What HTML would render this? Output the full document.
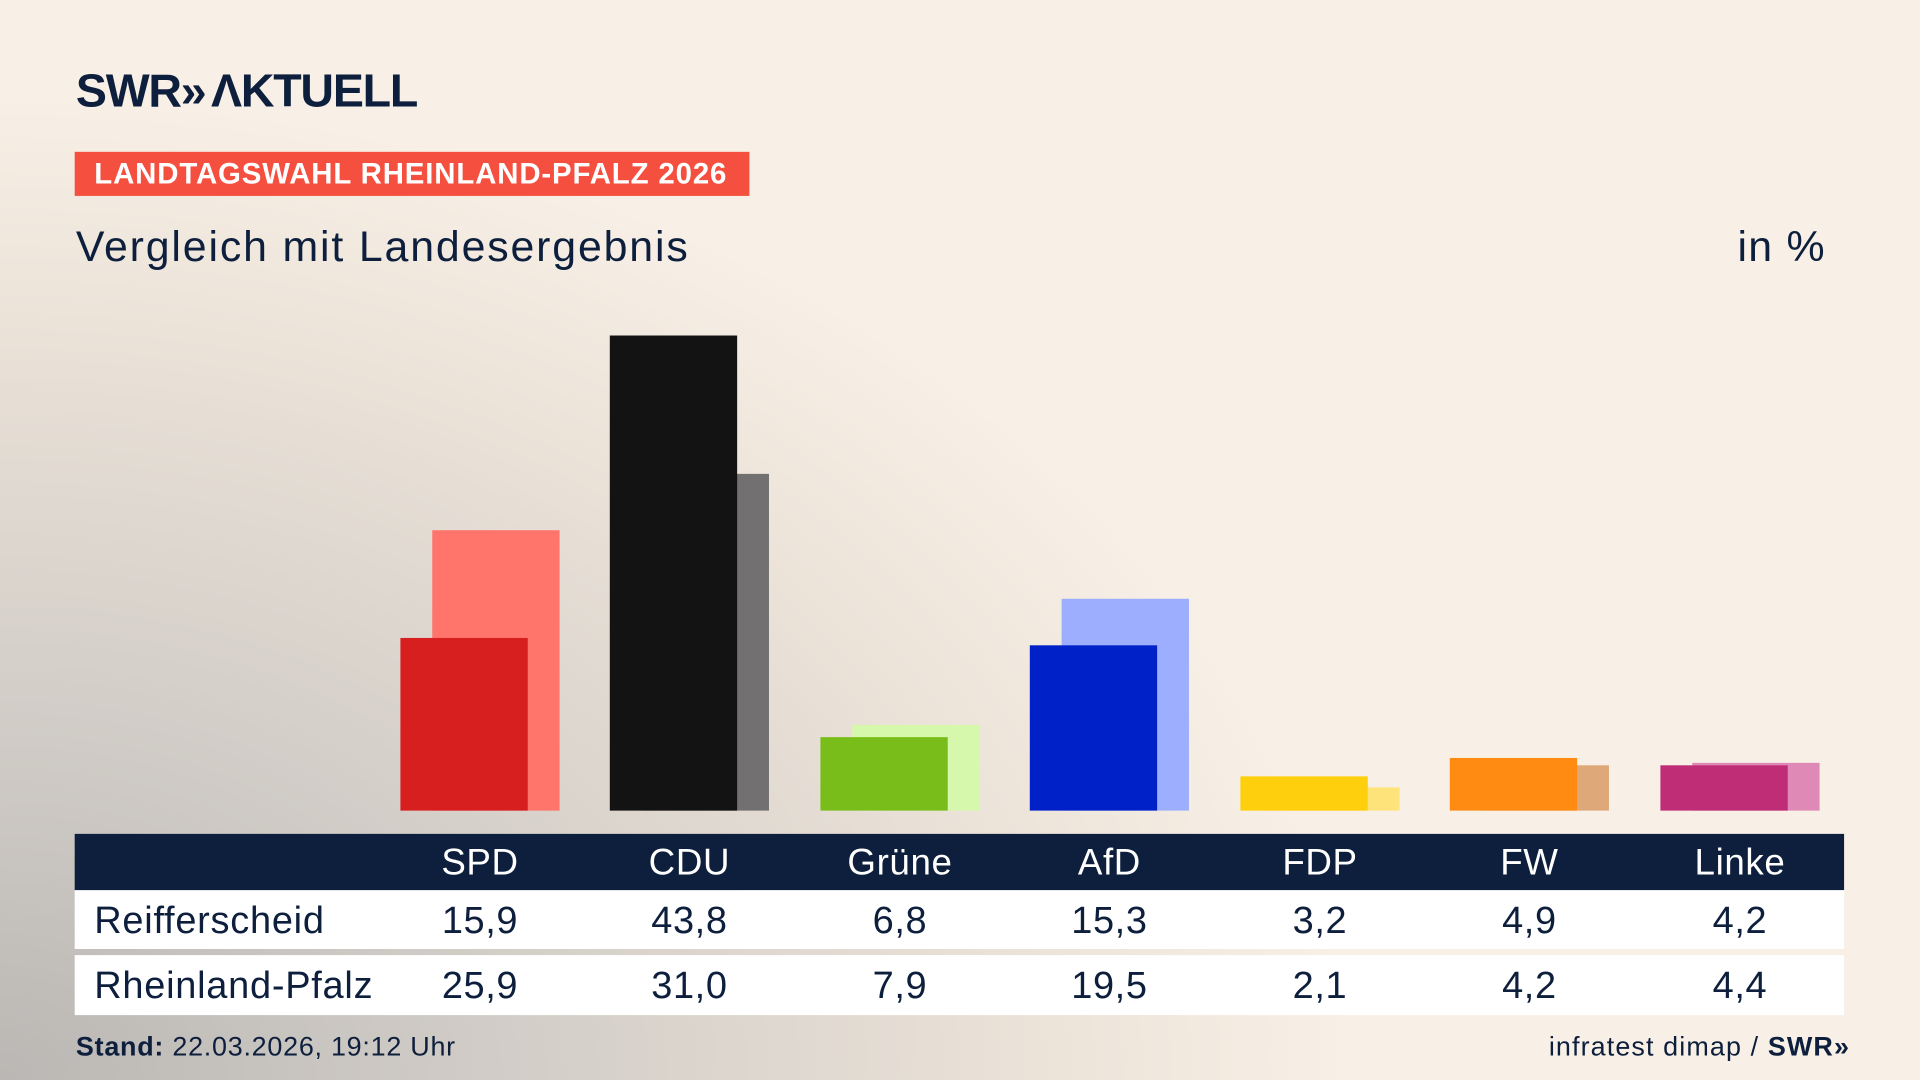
<!DOCTYPE html>
<html><head><meta charset="utf-8"><style>
html,body{margin:0;padding:0;width:1920px;height:1080px;overflow:hidden}
#s{position:absolute;left:0;top:0;width:1568px;height:882px;transform:scale(1.22449);transform-origin:0 0;
background:radial-gradient(ellipse 1300px 950px at 0% 100%, #bab7b4 0%, #d4cfc9 35%, #ebe2d8 65%, #f8f0e6 85%);
font-family:"Liberation Sans","DejaVu Sans",sans-serif;color:#0d1f3c;overflow:hidden}
.a{position:absolute}
.b{position:absolute;bottom:220px}
.c{position:absolute;width:130px;text-align:center;letter-spacing:0.5px}
</style></head><body><div id="s">
<div class="a" style="left:62px;top:54px;font-size:38px;font-weight:bold;letter-spacing:-1px;color:#0d1f3c">SWR<span style="letter-spacing:-6px">»</span> ΛKTUELL</div>
<div class="a" style="left:61px;top:124px;width:551px;height:36px;background:#f5503f;color:#fff;font-weight:bold;font-size:24px;line-height:37px;text-indent:16px;letter-spacing:0.7px">LANDTAGSWAHL RHEINLAND-PFALZ 2026</div>
<div class="a" style="left:62px;top:182px;font-size:35px;letter-spacing:1.5px">Vergleich mit Landesergebnis</div>
<div class="a" style="left:1419px;top:182px;font-size:35px;letter-spacing:1px">in %</div>

<div class="b" style="left:353px;width:104px;height:229px;background:#ff756c"></div>
<div class="b" style="left:327px;width:104px;height:141px;background:#d71f20"></div>
<div class="b" style="left:524px;width:104px;height:275px;background:#727070"></div>
<div class="b" style="left:498px;width:104px;height:388px;background:#131313"></div>
<div class="b" style="left:696px;width:104px;height:70px;background:#d6f8ac"></div>
<div class="b" style="left:670px;width:104px;height:60px;background:#79bd1b"></div>
<div class="b" style="left:867px;width:104px;height:173px;background:#9eaefe"></div>
<div class="b" style="left:841px;width:104px;height:135px;background:#0021c8"></div>
<div class="b" style="left:1039px;width:104px;height:19px;background:#fee37a"></div>
<div class="b" style="left:1013px;width:104px;height:28px;background:#fecf0c"></div>
<div class="b" style="left:1210px;width:104px;height:37px;background:#dfa878"></div>
<div class="b" style="left:1184px;width:104px;height:43px;background:#ff8b13"></div>
<div class="b" style="left:1382px;width:104px;height:39px;background:#df8ab6"></div>
<div class="b" style="left:1356px;width:104px;height:37px;background:#be2d76"></div>

<div class="a" style="left:61px;top:681px;width:1445px;height:46px;background:#0d1f3c"></div>
<div class="a" style="left:61px;top:727px;width:1445px;height:48px;background:#fff"></div>
<div class="a" style="left:61px;top:780px;width:1445px;height:49px;background:#fff"></div>
<div style="position:absolute;left:0;top:688px;width:1568px;font-size:30px;color:#fff">
<div class="c" style="left:327px">SPD</div><div class="c" style="left:498px">CDU</div><div class="c" style="left:670px">Grüne</div><div class="c" style="left:841px">AfD</div><div class="c" style="left:1013px">FDP</div><div class="c" style="left:1184px">FW</div><div class="c" style="left:1356px">Linke</div></div>
<div style="position:absolute;left:0;top:734px;width:1568px;font-size:31px">
<div class="a" style="left:77px;letter-spacing:0.6px">Reifferscheid</div>
<div class="c" style="left:327px">15,9</div><div class="c" style="left:498px">43,8</div><div class="c" style="left:670px">6,8</div><div class="c" style="left:841px">15,3</div><div class="c" style="left:1013px">3,2</div><div class="c" style="left:1184px">4,9</div><div class="c" style="left:1356px">4,2</div></div>
<div style="position:absolute;left:0;top:787px;width:1568px;font-size:31px">
<div class="a" style="left:77px;letter-spacing:0.6px">Rheinland-Pfalz</div>
<div class="c" style="left:327px">25,9</div><div class="c" style="left:498px">31,0</div><div class="c" style="left:670px">7,9</div><div class="c" style="left:841px">19,5</div><div class="c" style="left:1013px">2,1</div><div class="c" style="left:1184px">4,2</div><div class="c" style="left:1356px">4,4</div></div>
<div class="a" style="left:62px;top:842px;font-size:22px;letter-spacing:0.6px"><b>Stand:</b> 22.03.2026, 19:12 Uhr</div>
<div class="a" style="right:62px;top:842px;font-size:22px;letter-spacing:0.9px">infratest dimap / <b>SWR<span style="letter-spacing:-4px">»</span></b></div>
</div></body></html>
